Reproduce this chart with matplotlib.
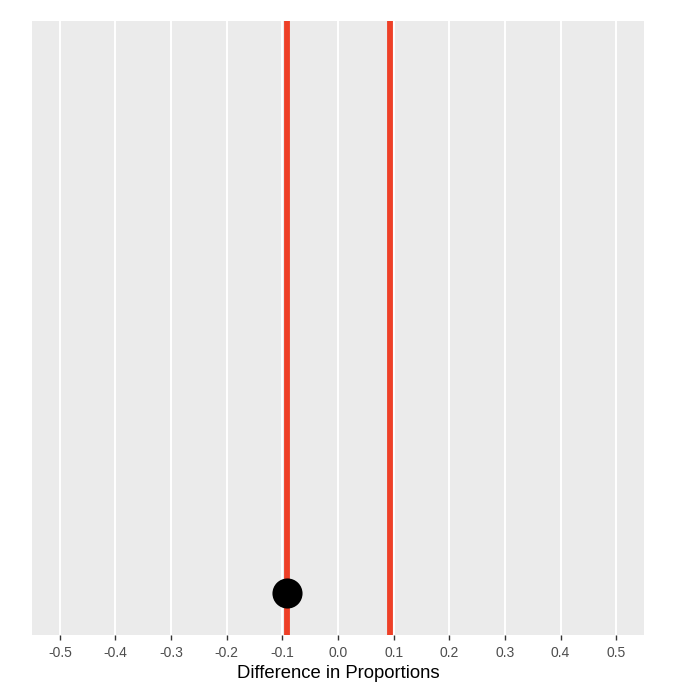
import matplotlib
matplotlib.use("Agg")
import matplotlib.pyplot as plt
import numpy as np

plt.rcParams['font.family'] = ['Liberation Sans', 'DejaVu Sans']

x_ticks = [-0.5, -0.4, -0.3, -0.2, -0.1, 0.0, 0.1, 0.2, 0.3, 0.4, 0.5]
tick_labels = ["-0.5", "-0.4", "-0.3", "-0.2", "-0.1", "0.0", "0.1", "0.2", "0.3", "0.4", "0.5"]
ci_bounds = [-0.092, 0.093]
point_x = [-0.092]
point_y = [0.0]

fig = plt.figure(figsize=(6.75, 7.0), dpi=100)
ax = fig.add_axes([32/675, 65/700, (644-32)/675, (635-21)/700])
ax.set_facecolor('#EBEBEB')
for s in ax.spines.values():
    s.set_visible(False)

ax.set_xlim(-0.55, 0.55)
ax.set_ylim(-0.068, 0.932)
ax.set_xticks(x_ticks)
ax.set_xticklabels(tick_labels)
ax.set_yticks([])
ax.grid(axis='x', color='white', linewidth=1.4)
ax.set_axisbelow(True)
ax.tick_params(axis='x', colors='#333333', labelcolor='#4D4D4D', labelsize=10, length=3.5, width=1.0, pad=4.5)

for b in ci_bounds:
    ax.axvline(b, color='#EE4027', linewidth=4.2, zorder=2)
ax.scatter(point_x, point_y, s=470, color='black', zorder=3, linewidths=0)

ax.set_xlabel("Difference in Proportions", fontsize=13.3, color='black', labelpad=3.5)

fig.savefig("out.png", dpi=100)
